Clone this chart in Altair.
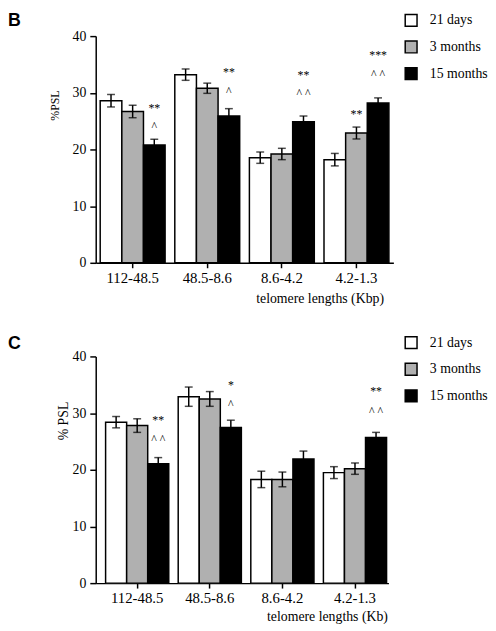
import altair as alt
import pandas as pd

groups = ["112-48.5", "48.5-8.6", "8.6-4.2", "4.2-1.3"]
series = ["21 days", "3 months", "15 months"]
fills = ["white", "#b0b0b0", "black"]

# Panel B (%PSL)
b_21d = [28.6, 33.2, 18.55, 18.2]
b_3m = [26.7, 30.8, 19.2, 22.9]
b_15m = [20.8, 25.9, 24.9, 28.2]
b_21d_err = [1.1, 1.0, 1.0, 1.1]
b_3m_err = [1.1, 0.9, 1.0, 1.05]
b_15m_err = [1.0, 1.3, 1.0, 0.9]
b_ann_group = ["112-48.5", "112-48.5", "48.5-8.6", "48.5-8.6", "8.6-4.2", "8.6-4.2", "4.2-1.3", "4.2-1.3", "4.2-1.3"]
b_ann_series = ["15 months", "15 months", "15 months", "15 months", "15 months", "15 months", "3 months", "15 months", "15 months"]
b_ann_text = ["**", "^", "**", "^", "**", "^ ^", "**", "***", "^ ^"]
b_ann_y = [27.3, 24.1, 33.6, 30.3, 33.2, 29.9, 26.3, 36.6, 33.3]

# Panel C (% PSL)
c_21d = [28.4, 32.9, 18.3, 19.5]
c_3m = [27.8, 32.5, 18.3, 20.2]
c_15m = [21.05, 27.45, 21.9, 25.7]
c_21d_err = [1.0, 1.7, 1.45, 1.05]
c_3m_err = [1.2, 1.3, 1.3, 1.0]
c_15m_err = [1.1, 1.3, 1.4, 0.9]
c_ann_group = ["112-48.5", "112-48.5", "48.5-8.6", "48.5-8.6", "4.2-1.3", "4.2-1.3"]
c_ann_series = ["15 months", "15 months", "15 months", "15 months", "15 months", "15 months"]
c_ann_text = ["**", "^ ^", "*", "^", "**", "^ ^"]
c_ann_y = [28.8, 25.5, 34.9, 31.6, 33.9, 30.4]

y_ticks = [0, 10, 20, 30, 40]

SERIF = "'Liberation Serif', 'Times New Roman', Times, 'DejaVu Serif', serif"
SANS = "'Liberation Sans', Arial, Helvetica, sans-serif"


def panel(means, errs, ann, letter, ytitle, ytitle_size, xtitle, width,
          pad_outer, align, ytitle_x, ytitle_y, xtitle_x, xtitle_y,
          legend_y, legend_pad, label_y):
    rows = []
    for s, m, e in zip(series, means, errs):
        for g, v, er in zip(groups, m, e):
            rows.append(dict(group=g, series=s, value=v, lo=v - er, hi=v + er))
    df = pd.DataFrame(rows)
    adf = pd.DataFrame({"group": ann[0], "series": ann[1], "label": ann[2], "y": ann[3]})

    xaxis = alt.Axis(title=xtitle, labelAngle=0, domainColor="black", domainWidth=1.5,
                     tickColor="black", tickWidth=1.5, tickSize=5, labelPadding=3,
                     labelFont=SERIF, labelFontSize=15, labelColor="black",
                     titleFont=SERIF, titleFontSize=14, titleFontWeight="normal",
                     titleColor="black", titleX=xtitle_x, titleY=xtitle_y,
                     titleAlign="right", titleBaseline="middle", titleAnchor="start")
    yaxis = alt.Axis(title=ytitle, values=y_ticks, grid=False, domainColor="black",
                     domainWidth=1.5, tickColor="black", tickWidth=1.5, tickSize=6,
                     labelPadding=4, labelFont=SERIF, labelFontSize=14, labelColor="black",
                     titleFont=SERIF, titleFontSize=ytitle_size, titleFontWeight="normal",
                     titleColor="black", titleX=ytitle_x, titleY=ytitle_y,
                     titleAngle=270, titleAlign="center", titleBaseline="middle",
                     titleAnchor="start")
    xscale = alt.Scale(domain=groups, paddingInner=0.13, paddingOuter=pad_outer, align=align)
    yscale = alt.Scale(domain=[0, 40], nice=False)
    x = alt.X("group:N", scale=xscale, sort=groups, axis=xaxis)
    xo = alt.XOffset("series:N", scale=alt.Scale(domain=series, paddingInner=0, paddingOuter=0))

    bars = alt.Chart(df).mark_bar(stroke="black", strokeWidth=1.5).encode(
        x=x, xOffset=xo,
        y=alt.Y("value:Q", scale=yscale, axis=yaxis),
        fill=alt.Fill("series:N", scale=alt.Scale(domain=series, range=fills),
                      legend=alt.Legend(orient="none", legendX=313, legendY=legend_y,
                                        title=None, symbolType="square", symbolSize=144,
                                        symbolStrokeColor="black", symbolStrokeWidth=1.5,
                                        labelFont=SERIF, labelFontSize=14,
                                        labelColor="black", labelOffset=12,
                                        rowPadding=legend_pad, padding=0)),
    )
    rule = alt.Chart(df).mark_rule(color="black", strokeWidth=1.5).encode(
        x=x, xOffset=xo, y=alt.Y("lo:Q", scale=yscale, axis=yaxis), y2="hi:Q")
    cap_hi = alt.Chart(df).mark_tick(color="black", thickness=1.5, size=8, orient="horizontal").encode(
        x=x, xOffset=xo, y=alt.Y("hi:Q", scale=yscale, axis=yaxis))
    cap_lo = alt.Chart(df).mark_tick(color="black", thickness=1.5, size=8, orient="horizontal").encode(
        x=x, xOffset=xo, y=alt.Y("lo:Q", scale=yscale, axis=yaxis))
    texts = alt.Chart(adf).mark_text(font=SERIF, fontSize=12, color="black", baseline="middle").encode(
        x=x, xOffset=xo, y=alt.Y("y:Q", scale=yscale, axis=yaxis), text="label:N")
    lab = alt.Chart(pd.DataFrame({"t": [letter]})).mark_text(
        font=SANS, fontWeight="bold", fontSize=18, align="left",
        baseline="top", color="black").encode(
        x=alt.value(-89), y=alt.value(label_y), text="t:N")

    return alt.layer(bars, rule, cap_hi, cap_lo, texts, lab).properties(width=width, height=230)


pB = panel([b_21d, b_3m, b_15m], [b_21d_err, b_3m_err, b_15m_err],
           [b_ann_group, b_ann_series, b_ann_text, b_ann_y], "B", "%PSL", 12,
           "telomere lengths (Kbp)", 302, 0.06, 0.5, -42, 70, 292, 36, -23, 9, -24)
pC = panel([c_21d, c_3m, c_15m], [c_21d_err, c_3m_err, c_15m_err],
           [c_ann_group, c_ann_series, c_ann_text, c_ann_y], "C", "% PSL", 14,
           "telomere lengths (Kb)", 297, 0.081, 0.84, -33, 65, 296, 34, -21, 9, -22)

chart = alt.vconcat(pB, pC, spacing=30).resolve_scale(
    x="independent", y="independent", fill="independent", xOffset="independent"
).resolve_legend(fill="independent").properties(padding=0).configure_view(stroke=None)

chart.save("out.html", embed_options={"renderer": "svg", "actions": False})
